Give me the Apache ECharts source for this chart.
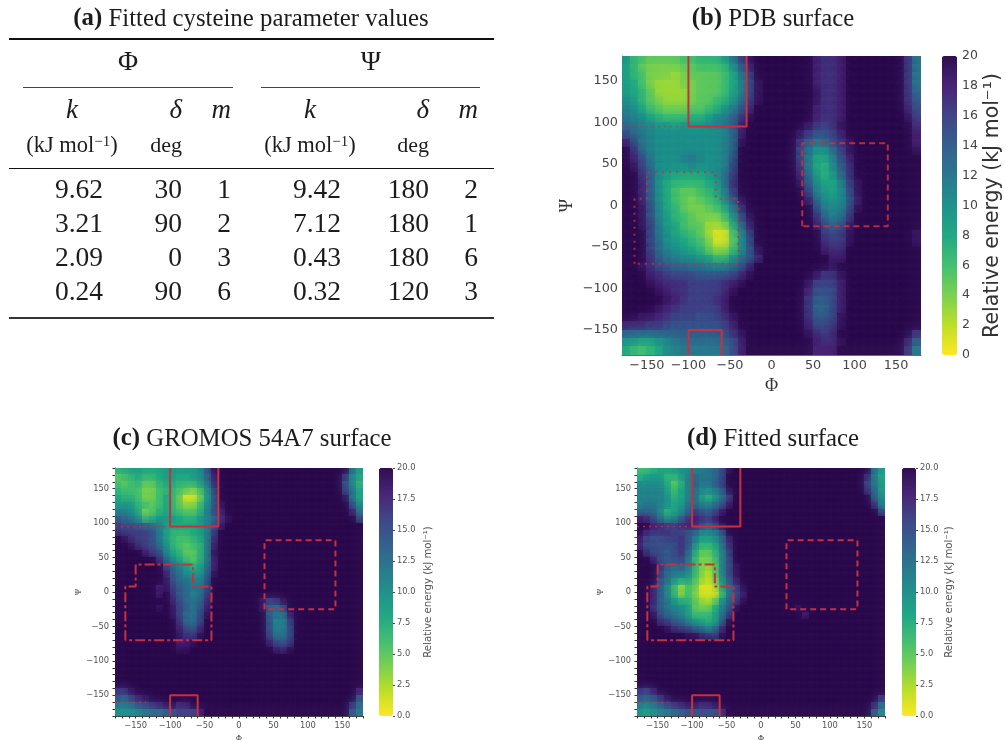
<!DOCTYPE html>
<html><head><meta charset="utf-8">
<script src="https://cdn.jsdelivr.net/npm/echarts@6/dist/echarts.min.js"></script>
<style>html,body{margin:0;padding:0;background:#fff}#c{width:1005px;height:740px}</style>
</head><body><div id="c"></div>
<script>
const phiCenters=[-175,-165,-155,-145,-135,-125,-115,-105,-95,-85,-75,-65,-55,-45,-35,-25,-15,-5,5,15,25,35,45,55,65,75,85,95,105,115,125,135,145,155,165,175];
const psiCenters=[175,165,155,145,135,125,115,105,95,85,75,65,55,45,35,25,15,5,-5,-15,-25,-35,-45,-55,-65,-75,-85,-95,-105,-115,-125,-135,-145,-155,-165,-175];
const surfacePDB=[
[10,7,6,5,5,5,5,6,6,7,7,7,9,12,16,19,20,20,20,20,20,20,20,18,17,17,18,20,20,20,20,20,20,20,17,12],
[9,7,5,4,4,4,4,5,5,6,6,6,7,10,14,18,20,20,20,20,20,20,20,18,17,17,18,20,20,20,20,20,20,20,17,12],
[9,7,6,4,4,4,3,4,5,5,5,5,6,8,12,16,20,20,20,20,20,20,20,18,17,17,18,20,20,20,20,20,20,20,17,12],
[9,8,6,4,3,3,3,4,4,5,5,5,6,8,11,15,19,20,20,20,20,20,20,18,17,17,18,20,20,20,20,20,20,20,17,12],
[9,8,7,5,3,3,3,3,4,5,5,5,6,8,11,15,19,20,20,20,20,20,20,19,17,17,18,20,20,20,20,20,20,20,17,13],
[10,9,7,5,4,3,3,3,4,5,5,6,7,9,12,16,19,20,20,20,20,20,20,19,17,17,18,20,20,20,20,20,20,20,17,14],
[11,10,8,6,5,4,4,4,5,5,6,7,9,11,14,17,20,20,20,20,20,20,20,18,17,17,18,20,20,20,20,20,20,20,18,15],
[12,11,10,8,7,6,6,6,7,7,8,10,11,13,16,19,20,20,20,20,20,20,20,18,17,17,18,20,20,20,20,20,20,20,19,16],
[13,12,11,10,9,9,8,9,9,9,10,11,12,14,18,20,20,20,20,20,20,20,19,17,16,17,19,20,20,20,20,20,20,20,20,17],
[15,13,12,11,10,10,10,10,10,10,10,10,11,13,18,20,20,20,20,20,20,19,17,15,15,16,18,20,20,20,20,20,20,20,20,18],
[18,15,12,11,10,10,10,10,10,10,10,10,11,13,19,20,20,20,20,20,20,17,14,12,13,15,17,19,20,20,20,20,20,20,20,18],
[20,17,13,11,10,10,10,10,10,10,10,10,11,13,20,20,20,20,20,20,20,16,13,10,10,13,16,19,20,20,20,20,20,20,20,19],
[20,18,15,12,10,10,10,11,12,11,10,10,11,14,20,20,20,20,20,20,20,16,12,8,8,11,15,18,20,20,20,20,20,20,20,20],
[20,19,16,13,10,10,10,10,11,10,10,10,11,15,20,20,20,20,20,20,20,17,12,8,7,10,14,17,20,20,20,20,20,20,20,20],
[20,20,17,14,10,9,8,8,8,8,9,10,12,16,20,20,20,20,20,20,20,18,13,9,7,9,13,17,20,20,20,20,20,20,20,20],
[20,20,18,14,10,8,7,7,7,7,8,9,12,17,20,20,20,20,20,20,20,19,14,10,8,8,11,16,19,20,20,20,20,20,20,20],
[20,20,18,14,10,8,6,5,5,6,7,8,11,16,20,20,20,20,20,20,20,20,16,11,9,8,10,15,19,20,20,20,20,20,20,20],
[20,20,18,14,10,8,6,5,4,5,6,7,10,14,19,20,20,20,20,20,20,20,18,13,10,9,10,14,18,20,20,20,20,20,20,20],
[20,20,19,15,11,8,7,5,4,4,5,6,8,12,17,20,20,20,20,20,20,20,20,15,11,10,11,15,19,20,20,20,20,20,20,20],
[20,20,19,15,11,9,7,6,5,4,4,4,6,10,15,19,20,20,20,20,20,20,20,17,13,11,12,16,20,20,20,20,20,20,20,20],
[20,20,19,16,12,9,8,6,5,5,3,3,4,8,13,18,20,20,20,20,20,20,20,18,15,13,14,18,20,20,20,20,20,20,20,20],
[20,20,20,16,12,10,8,7,6,5,3,1,1,6,11,16,20,20,20,20,20,20,20,20,16,15,16,19,20,20,20,20,20,20,20,19],
[20,20,20,16,13,10,9,8,7,6,4,1,1,5,10,15,20,20,20,20,20,20,20,20,17,16,16,19,20,20,20,20,20,20,20,19],
[20,20,20,16,13,11,10,9,8,7,5,3,3,6,10,14,19,20,20,20,20,20,20,20,18,17,17,20,20,20,20,20,20,20,20,20],
[20,20,20,17,14,12,11,10,10,9,8,6,6,9,12,14,17,20,20,20,20,20,20,20,20,18,18,20,20,20,20,20,20,20,20,20],
[20,20,19,17,15,14,13,13,12,12,11,10,10,12,14,17,20,20,20,20,20,20,20,20,20,19,20,20,20,20,20,20,20,20,20,20],
[20,20,20,18,17,16,15,15,15,14,14,14,14,15,17,19,20,20,20,20,20,20,20,19,17,17,19,20,20,20,20,20,20,20,20,20],
[20,20,20,19,18,17,17,17,16,16,16,16,17,18,19,20,20,20,20,20,20,20,19,16,16,16,18,20,20,20,20,20,20,20,20,20],
[20,20,20,20,19,18,17,17,16,16,16,16,17,19,20,20,20,20,20,20,20,20,18,15,15,15,18,20,20,20,20,20,20,20,20,20],
[20,20,20,20,20,19,18,17,16,16,16,17,18,20,20,20,20,20,20,20,20,20,17,14,14,15,18,20,20,20,20,20,20,20,20,20],
[20,20,20,20,19,18,17,16,16,16,16,16,18,20,20,20,20,20,20,20,20,20,17,13,13,15,18,20,20,20,20,20,20,20,20,20],
[20,20,19,19,18,17,16,16,16,15,15,16,17,19,20,20,20,20,20,20,20,20,17,14,14,15,19,20,20,20,20,20,20,20,20,20],
[18,18,18,17,17,16,15,15,15,15,15,15,16,18,20,20,20,20,20,20,20,20,18,15,15,16,19,20,20,20,20,20,20,20,20,20],
[14,14,14,14,14,14,14,14,14,14,14,14,15,17,19,20,20,20,20,20,20,20,19,17,16,17,20,20,20,20,20,20,20,20,20,17],
[10,10,9,9,10,11,12,13,13,13,13,13,14,15,18,20,20,20,20,20,20,20,20,18,17,17,19,20,20,20,20,20,20,20,18,14],
[8,7,6,7,8,10,11,12,12,12,12,12,13,15,18,20,20,20,20,20,20,20,20,18,18,18,20,20,20,20,20,20,20,20,17,12]];
const surfaceGROMOS=[
[7,8,9,9,8,8,8,9,9,9,9,9,10,14,19,20,20,20,20,20,20,20,20,20,20,20,20,20,20,20,20,20,20,20,13,9],
[5,6,7,8,7,7,8,9,9,8,8,9,10,13,18,20,20,20,20,20,20,20,20,20,20,20,20,20,20,20,20,20,20,17,11,8],
[6,5,6,7,5,5,7,8,8,7,7,7,9,12,17,20,20,20,20,20,20,20,20,20,20,20,20,20,20,20,20,20,20,15,11,7],
[7,6,6,6,4,4,6,7,7,6,5,4,6,10,15,20,20,20,20,20,20,20,20,20,20,20,20,20,20,20,20,20,20,16,12,8],
[8,7,7,6,4,4,6,8,7,5,1,1,4,9,14,20,20,20,20,20,20,20,20,20,20,20,20,20,20,20,20,20,20,19,12,8],
[9,9,9,7,6,5,6,8,7,5,3,3,6,10,14,19,20,20,20,20,20,20,20,20,20,20,20,20,20,20,20,20,20,20,15,10],
[11,11,10,8,4,5,7,8,7,6,5,5,7,11,15,18,20,20,20,20,20,20,20,20,20,20,20,20,20,20,20,20,20,20,18,12],
[14,13,12,10,6,7,9,9,9,8,7,7,9,11,13,17,19,20,20,20,20,20,20,20,20,20,20,20,20,20,20,20,20,20,20,15],
[16,15,15,14,13,12,11,9,8,8,8,8,9,11,14,18,20,20,20,20,20,20,20,20,20,20,20,20,20,20,20,20,20,20,20,20],
[17,16,16,16,16,15,12,9,7,7,7,8,9,11,16,20,20,20,20,20,20,20,20,20,20,20,20,20,20,20,20,20,20,20,20,20],
[20,19,17,16,16,15,12,9,7,6,6,7,8,11,17,20,20,20,20,20,20,20,20,20,20,20,20,20,20,20,20,20,20,20,20,20],
[20,20,19,17,16,15,13,10,7,6,5,6,7,11,18,20,20,20,20,20,20,20,20,20,20,20,20,20,20,20,20,20,20,20,20,20],
[20,20,20,20,18,16,15,11,8,7,5,5,7,11,19,20,20,20,20,20,20,20,20,20,20,20,20,20,20,20,20,20,20,20,20,20],
[20,20,20,20,20,20,17,13,10,8,6,5,7,11,18,20,20,20,20,20,20,20,20,20,20,20,20,20,20,20,20,20,20,20,20,20],
[20,20,20,20,20,20,20,16,13,11,9,7,8,12,18,20,20,20,20,20,20,20,20,20,20,20,20,20,20,20,20,20,20,20,20,20],
[20,20,20,20,20,20,20,18,14,12,10,9,9,13,19,20,20,20,20,20,20,20,20,20,20,20,20,20,20,20,20,20,20,20,20,20],
[20,20,20,20,20,20,20,19,15,13,12,11,11,14,20,20,20,20,20,20,20,20,20,20,20,20,20,20,20,20,20,20,20,20,20,20],
[20,20,20,20,20,20,18,19,16,14,13,12,12,15,20,20,20,20,20,20,20,20,20,20,20,20,20,20,20,20,20,20,20,20,20,20],
[20,20,20,20,20,20,18,20,17,14,13,11,12,16,20,20,20,20,20,20,20,20,20,20,20,20,20,20,20,20,20,20,20,20,20,20],
[20,20,20,20,20,20,20,20,18,15,13,12,13,17,20,20,20,20,20,20,20,19,16,17,19,20,20,20,20,20,20,20,20,20,20,20],
[20,20,20,20,20,20,19,20,19,16,14,12,14,18,20,20,20,20,20,20,20,19,14,13,15,20,20,20,20,20,20,20,20,20,20,20],
[20,20,20,20,20,20,20,20,19,16,13,12,15,19,20,20,20,20,20,20,20,20,14,12,12,18,20,20,20,20,20,20,20,20,20,20],
[20,20,20,20,20,20,20,20,20,17,13,12,15,20,20,20,20,20,20,20,20,20,15,11,11,16,20,20,20,20,20,20,20,20,20,20],
[20,20,20,20,20,20,20,20,20,18,15,14,17,20,20,20,20,20,20,20,20,20,15,11,11,15,20,20,20,20,20,20,20,20,20,20],
[20,20,20,20,20,20,20,20,20,19,17,16,19,20,20,20,20,20,20,20,20,20,16,12,12,15,20,20,20,20,20,20,20,20,20,20],
[20,20,20,20,20,20,20,20,20,18,18,19,20,20,20,20,20,20,20,20,20,20,18,15,14,16,20,20,20,20,20,20,20,20,20,20],
[20,20,20,20,20,20,20,20,20,19,19,20,20,20,20,20,20,20,20,20,20,20,20,18,17,19,20,20,20,20,20,20,20,20,20,20],
[20,20,20,20,20,20,20,20,20,20,20,20,20,20,20,20,20,20,20,20,20,20,20,20,20,20,20,20,20,20,20,20,20,20,20,20],
[20,20,20,20,20,20,20,20,20,20,20,20,20,20,20,20,20,20,20,20,20,20,20,20,20,20,20,20,20,20,20,20,20,20,20,20],
[20,20,20,20,20,20,20,20,20,20,20,20,20,20,20,20,20,20,20,20,20,20,20,20,20,20,20,20,20,20,20,20,20,20,20,20],
[20,20,20,20,20,20,20,20,20,20,20,20,20,20,20,20,20,20,20,20,20,20,20,20,20,20,20,20,20,20,20,20,20,20,20,20],
[20,20,20,20,20,20,20,20,20,20,20,20,20,20,20,20,20,20,20,20,20,20,20,20,20,20,20,20,20,20,20,20,20,20,20,20],
[17,17,19,20,20,20,20,20,20,20,20,20,20,20,20,20,20,20,20,20,20,20,20,20,20,20,20,20,20,20,20,20,20,20,20,18],
[15,14,16,18,19,20,20,20,20,20,20,20,20,20,20,20,20,20,20,20,20,20,20,20,20,20,20,20,20,20,20,20,20,20,20,15],
[12,12,13,15,16,17,18,19,20,18,18,20,20,20,20,20,20,20,20,20,20,20,20,20,20,20,20,20,20,20,20,20,20,20,17,13],
[10,10,10,11,12,13,13,14,15,16,16,16,18,20,20,20,20,20,20,20,20,20,20,20,20,20,20,20,20,20,20,20,20,20,15,12]];
const surfaceFitted=[
[6,6,7,8,8,9,10,10,11,11,12,13,15,19,20,20,20,20,20,20,20,20,20,20,20,20,20,20,20,20,20,20,20,20,13,9],
[7,8,9,9,7,7,9,11,13,12,12,13,15,20,20,20,20,20,20,20,20,20,20,20,20,20,20,20,20,20,20,20,20,18,12,8],
[10,10,10,10,8,5,7,11,14,12,12,14,16,20,20,20,20,20,20,20,20,20,20,20,20,20,20,20,20,20,20,20,20,16,12,9],
[11,11,11,11,9,6,8,11,13,11,10,12,14,19,20,20,20,20,20,20,20,20,20,20,20,20,20,20,20,20,20,20,20,17,13,9],
[11,11,11,11,10,7,8,11,13,9,7,9,12,16,20,20,20,20,20,20,20,20,20,20,20,20,20,20,20,20,20,20,20,20,14,10],
[11,12,12,11,10,8,9,12,13,11,10,12,14,18,20,20,20,20,20,20,20,20,20,20,20,20,20,20,20,20,20,20,20,20,17,11],
[13,13,13,11,7,8,10,13,16,14,13,15,18,20,20,20,20,20,20,20,20,20,20,20,20,20,20,20,20,20,20,20,20,20,20,15],
[18,17,15,12,9,10,13,16,18,17,16,18,20,20,20,20,20,20,20,20,20,20,20,20,20,20,20,20,20,20,20,20,20,20,20,20],
[20,20,18,17,16,16,17,18,18,16,14,16,19,20,20,20,20,20,20,20,20,20,20,20,20,20,20,20,20,20,20,20,20,20,20,20],
[20,18,17,17,17,16,16,15,14,11,11,12,15,20,20,20,20,20,20,20,20,20,20,20,20,20,20,20,20,20,20,20,20,20,20,20],
[19,16,15,15,16,16,17,15,12,9,9,10,13,18,20,20,20,20,20,20,20,20,20,20,20,20,20,20,20,20,20,20,20,20,20,20],
[18,15,15,15,15,15,17,15,10,7,7,8,12,17,20,20,20,20,20,20,20,20,20,20,20,20,20,20,20,20,20,20,20,20,20,20],
[20,17,15,15,14,15,17,14,8,5,5,7,11,16,20,20,20,20,20,20,20,20,20,20,20,20,20,20,20,20,20,20,20,20,20,20],
[20,20,18,15,14,15,16,13,7,4,4,6,11,15,20,20,20,20,20,20,20,20,20,20,20,20,20,20,20,20,20,20,20,20,20,20],
[20,20,20,17,14,13,14,12,7,4,3,5,11,15,19,20,20,20,20,20,20,20,20,20,20,20,20,20,20,20,20,20,20,20,20,20],
[20,20,20,16,13,12,12,11,7,4,2,5,11,15,19,20,20,20,20,20,20,20,20,20,20,20,20,20,20,20,20,20,20,20,20,20],
[20,20,20,15,13,10,8,9,6,3,2,4,10,14,18,20,20,20,20,20,20,20,20,20,20,20,20,20,20,20,20,20,20,20,20,20],
[20,20,18,14,11,7,3,6,5,1,1,2,8,13,16,19,20,20,20,20,20,20,20,20,20,20,20,20,20,20,20,20,20,20,20,20],
[20,20,18,14,11,7,3,6,4,1,1,1,6,12,15,18,20,20,20,20,20,20,20,20,20,20,20,20,20,20,20,20,20,20,20,20],
[20,20,18,14,12,9,7,7,5,3,2,4,9,13,16,19,20,20,20,20,20,20,20,20,20,20,20,20,20,20,20,20,20,20,20,20],
[20,20,17,14,12,11,10,9,5,4,4,7,11,14,19,20,20,20,20,20,20,20,20,19,20,20,20,20,20,20,20,20,20,20,20,20],
[20,20,19,15,13,12,11,9,6,6,6,8,12,16,20,20,20,20,20,20,20,20,20,20,18,20,20,20,20,20,20,20,20,20,20,20],
[20,20,20,17,16,14,13,11,9,8,7,8,13,19,20,20,20,20,20,20,20,20,20,20,20,20,20,20,20,20,20,20,20,20,20,20],
[20,20,20,20,19,17,16,15,13,12,10,12,17,20,20,20,20,20,20,20,20,20,20,20,20,20,20,20,20,20,20,20,20,20,20,20],
[20,20,20,20,20,20,20,19,19,17,16,15,19,20,20,20,20,20,20,20,20,20,20,20,20,20,20,20,20,20,20,20,20,20,20,20],
[20,20,20,20,20,20,20,20,20,20,20,20,20,20,20,20,20,20,20,20,20,20,20,20,20,20,20,20,20,20,20,20,20,20,20,20],
[20,20,20,20,20,20,20,20,20,20,20,20,20,20,20,20,20,20,20,20,20,20,20,20,20,20,20,20,20,20,20,20,20,20,20,20],
[20,20,20,20,20,20,20,20,20,20,20,20,20,20,20,20,20,20,20,20,20,20,20,20,20,20,20,20,20,20,20,20,20,20,20,20],
[20,20,20,20,20,20,20,20,20,20,20,20,20,20,20,20,20,20,20,20,20,20,20,20,20,20,20,20,20,20,20,20,20,20,20,20],
[20,20,20,20,20,20,20,20,20,20,20,20,20,20,20,20,20,20,20,20,20,20,20,20,20,20,20,20,20,20,20,20,20,20,20,20],
[20,20,20,20,20,20,20,20,20,20,20,20,20,20,20,20,20,20,20,20,20,20,20,20,20,20,20,20,20,20,20,20,20,20,20,20],
[20,20,20,20,20,20,20,20,20,20,20,20,20,20,20,20,20,20,20,20,20,20,20,20,20,20,20,20,20,20,20,20,20,20,20,20],
[17,16,18,20,20,20,20,20,20,20,20,20,20,20,20,20,20,20,20,20,20,20,20,20,20,20,20,20,20,20,20,20,20,20,20,20],
[15,14,15,17,19,20,20,20,20,20,20,20,20,20,20,20,20,20,20,20,20,20,20,20,20,20,20,20,20,20,20,20,20,20,20,17],
[12,11,12,14,16,17,18,19,19,18,18,19,20,20,20,20,20,20,20,20,20,20,20,20,20,20,20,20,20,20,20,20,20,20,18,13],
[10,9,10,11,12,13,14,15,15,15,15,15,17,20,20,20,20,20,20,20,20,20,20,20,20,20,20,20,20,20,20,20,20,20,15,11]];
const angleLabels=[-150,-100,-50,0,50,100,150];
const angleTicksFine=[-180,-170,-160,-150,-140,-130,-120,-110,-100,-90,-80,-70,-60,-50,-40,-30,-20,-10,0,10,20,30,40,50,60,70,80,90,100,110,120,130,140,150,160,170,180];
const energyTicksB=[0,2,4,6,8,10,12,14,16,18,20];
const energyTicksCD=[0,2.5,5,7.5,10,12.5,15,17.5,20];
const energyColors=['#fde725','#bddf26','#7ad151','#44bf70','#22a884','#21918c','#2a788e','#355f8d','#414487','#482475','#2f0e50'];
const regionAlphaTop=[[-100,180],[-100,95],[-30,95],[-30,180]];
const regionAlphaBottom=[[-100,-180],[-100,-150],[-60,-150],[-60,-180]];
const regionAlphaWrapTop=[[-180,95],[-100,95]];
const regionAlphaWrapBottom=[[-180,-160],[-135,-160]];
const regionHelix=[[-165,-70],[-165,8],[-150,8],[-150,40],[-67,40],[-67,8],[-40,8],[-40,-70],[-165,-70]];
const regionLeft=[[37,-25],[37,75],[140,75],[140,-25],[37,-25]];
const phiK=['9.62','3.21','2.09','0.24'],phiDelta=['30','90','0','90'],phiM=['1','2','3','6'];
const psiK=['9.42','7.12','0.43','0.32'],psiDelta=['180','180','180','120'],psiM=['2','1','6','3'];
const energyName='Relative energy (kJ mol⁻¹)';

const serif='"Liberation Serif","Times New Roman",serif', sans='"DejaVu Sans",sans-serif';
const RED='#c8303f';
const minus=v=>String(v).replace('-','−');
const panels=[
 {m:surfacePDB,plot:[622,56,299,299],bar:[942,56,15,299],big:true,nameGap:25},
 {m:surfaceGROMOS,plot:[115,468,248,248],bar:[379,468,14,248],big:false,nameGap:30},
 {m:surfaceFitted,plot:[637,468,248,248],bar:[902,468,14,248],big:false,nameGap:28}];
const grid=[],xAxis=[],yAxis=[],series=[],visualMap=[];
const cell=(soft)=>(params,api)=>{
 const p=api.coord([api.value(0),api.value(1)]),s=api.size([1,1]),col=api.visual('color');
 return {type:'rect',shape:{x:Math.floor(p[0]-s[0]/2),y:Math.floor(p[1]-s[1]/2),width:Math.ceil(s[0])+1,height:Math.ceil(s[1])+1},
  style:{fill:col,shadowBlur:soft,shadowColor:col}};
};
panels.forEach((p,i)=>{
 const g=grid.length, lab=p.big?12.8:8.3, col=p.big?'#444':'#555';
 grid.push({left:p.plot[0],top:p.plot[1],width:p.plot[2],height:p.plot[3],show:false,outerBoundsMode:'none',containLabel:false});
 grid.push({left:p.bar[0],top:p.bar[1],width:p.bar[2],height:p.bar[3],show:false,outerBoundsMode:'none',containLabel:false});
 const x0=xAxis.length,y0=yAxis.length;
 xAxis.push({type:'category',gridIndex:g,data:phiCenters,show:false,boundaryGap:true});
 yAxis.push({type:'category',gridIndex:g,data:psiCenters,show:false,inverse:true,boundaryGap:true});
 const tickOn=!p.big;
 const common={type:'value',gridIndex:g,min:-180,max:180,splitLine:{show:false},
  axisLine:{show:true,onZero:false,lineStyle:{color:p.big?'#6b6b6b':'#444',width:1}},
  axisTick:{show:tickOn,length:2.5,customValues:angleTicksFine,lineStyle:{color:'#333',width:1}},
  axisLabel:{show:true,customValues:angleLabels,fontFamily:sans,fontSize:lab,color:col,margin:p.big?4:6,formatter:minus},
  nameLocation:'middle',nameMoveOverlap:false,nameTextStyle:{fontFamily:serif,fontSize:p.big?18:8,color:'#333'}};
 xAxis.push(Object.assign({},common,{position:'bottom',name:'Φ',nameGap:p.big?22:19}));
 yAxis.push(Object.assign({},common,{position:'left',name:'Ψ',nameGap:p.big?46:32}));
 xAxis.push({type:'value',gridIndex:g+1,show:false,min:0,max:1});
 yAxis.push({type:'value',gridIndex:g+1,min:0,max:20,position:'right',splitLine:{show:false},
  axisLine:{show:false,onZero:false},
  axisTick:{show:true,length:p.big?0:2,customValues:p.big?energyTicksB:energyTicksCD,lineStyle:{color:'#444'}},
  axisLabel:{customValues:p.big?energyTicksB:energyTicksCD,fontFamily:sans,fontSize:p.big?12.5:8.3,color:col,margin:p.big?5:4,
   formatter:v=>p.big?String(v):v.toFixed(1)},
  name:energyName,nameLocation:'middle',nameRotate:90,nameGap:p.nameGap,nameMoveOverlap:false,
  nameTextStyle:{fontFamily:sans,fontSize:p.big?20.5:10.2,color:p.big?'#333':'#555'}});
 const data=[];
 p.m.forEach((row,r)=>row.forEach((v,c)=>data.push([c,r,v])));
 const sIdx=series.length;
 series.push({type:'custom',xAxisIndex:x0,yAxisIndex:y0,data,silent:true,animation:false,z:1,clip:true,
  encode:{x:0,y:1},renderItem:cell(p.big?12:10),progressive:0});
 visualMap.push({type:'continuous',seriesIndex:sIdx,dimension:2,min:0,max:20,calculable:false,hoverLink:false,showLabel:false,
  left:p.bar[0],top:p.bar[1],itemWidth:p.bar[2],itemHeight:p.bar[3],padding:0,text:null,realtime:false,
  inRange:{color:energyColors},outOfRange:{color:energyColors}});
 const add=(d,type,w,op)=>series.push({type:'line',xAxisIndex:x0+1,yAxisIndex:y0+1,data:d,symbol:'none',silent:true,animation:false,z:5,
  lineStyle:{color:RED,width:w,type,opacity:op},clip:true});
 add(regionAlphaTop,'solid',2,1);
 add(regionAlphaBottom,'solid',2,1);
 add(regionAlphaWrapTop,[2,4],1.5,p.big?.5:.8);
 if(!p.big) add(regionAlphaWrapBottom,[2,4],1.5,.8);
 add(regionHelix,p.big?[2,5]:[10,3,3,3],2,p.big?.8:1);
 add(regionLeft,[6,4],2,p.big?.9:1);
});

const g=[];
const T=(x,y,text,o)=>g.push({type:'text',x,y,silent:true,style:Object.assign({text,fontFamily:serif,fontSize:27.5,fill:'#1c1c1c',align:'right',verticalAlign:'middle'},o||{})});
const L=(x1,x2,y,w,c)=>g.push({type:'line',silent:true,shape:{x1,y1:y,x2,y2:y},style:{stroke:c||'#111',lineWidth:w}});
const title=(x,y,letter,rest)=>T(x,y+1,'{b|('+letter+')} '+rest,{align:'center',fontSize:24.8,rich:{b:{fontWeight:'bold',fontFamily:serif,fontSize:24.8,fill:'#1c1c1c'}}});
title(251,18,'a','Fitted cysteine parameter values');
title(773,18,'b','PDB surface');
title(252,438,'c','GROMOS 54A7 surface');
title(773,438,'d','Fitted surface');
L(9,494,39,2);L(23,233,87.5,1,'#444');L(261,480,87.5,1,'#444');L(9,494,168.5,1,'#111');L(9,494,318,2,'#333');
T(128,63,'Φ',{align:'center'});T(371,63,'Ψ',{align:'center'});
const it={fontStyle:'italic',fontSize:27};
const unit='(kJ mol{s|−1})', unitO={align:'center',fontSize:22.5,rich:{s:{fontSize:15,fontFamily:serif,verticalAlign:'top',padding:[0,0,8,0],fill:'#1c1c1c'}}};
[[72,182,231,phiK,phiDelta,phiM],[310,429,478,psiK,psiDelta,psiM]].forEach(c=>{
 T(c[0],111,'k',{align:'center',fontStyle:'italic',fontSize:27});
 T(c[1],111,'δ',it);T(c[2],111,'m',it);
 T(c[0],146,unit,unitO);
 T(c[1],146,'deg',{fontSize:22});
 const kRight=c[0]+31;
 [0,1,2,3].forEach(r=>{
  const y=191+r*34;
  T(kRight,y,c[3][r]);T(c[1],y,c[4][r]);T(c[2],y,c[5][r]);
 });
});
const chart=echarts.init(document.getElementById('c'),null,{renderer:'canvas'});
chart.setOption({animation:false,backgroundColor:'#fff',grid,xAxis,yAxis,series,visualMap,graphic:{elements:g}});
</script></body></html>
